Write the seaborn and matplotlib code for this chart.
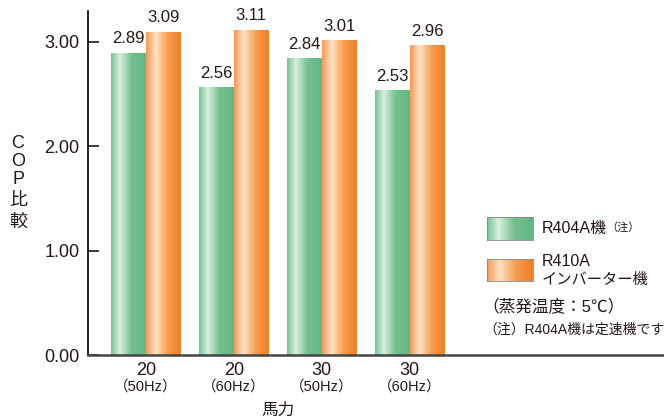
import numpy as np
import pandas as pd
import matplotlib
matplotlib.use("Agg")
import matplotlib.pyplot as plt
import seaborn as sns

# data
horsepower = ["20", "20", "30", "30"]
frequency = ["（50Hz）", "（60Hz）", "（50Hz）", "（60Hz）"]
r404a = [2.89, 2.56, 2.84, 2.53]
r410a = [3.09, 3.11, 3.01, 2.96]
series = ["R404A機", "R410Aインバーター機"]
yticks = [0.00, 1.00, 2.00, 3.00]

cats = [h + f for h, f in zip(horsepower, frequency)]
df = pd.DataFrame({
    "cat": cats * 2,
    "series": [series[0]] * 4 + [series[1]] * 4,
    "cop": r404a + r410a,
})

sns.set_style("ticks")
plt.rcParams['font.family'] = ['Liberation Sans', 'Noto Sans CJK JP', 'DejaVu Sans']
txt = "#231815"
narrow = ['Liberation Sans Narrow', 'Liberation Sans', 'DejaVu Sans']

# gradient stops (position, rgb) for the bar fills
green_stops = [(0.0, (112, 196, 146)), (0.25, (218, 238, 222)), (0.6, (112, 192, 142)), (1.0, (96, 184, 132))]
orange_stops = [(0.0, (246, 152, 84)), (0.28, (254, 226, 196)), (0.65, (246, 152, 74)), (1.0, (240, 128, 36))]


def gradient(stops, n=128):
    xs = np.linspace(0, 1, n)
    pos = [s[0] for s in stops]
    rgb = np.array([s[1] for s in stops]) / 255.0
    arr = np.stack([np.interp(xs, pos, rgb[:, k]) for k in range(3)], axis=-1)
    return arr[np.newaxis, :, :]


grads = [gradient(green_stops), gradient(orange_stops)]

fig = plt.figure(figsize=(6.64, 4.2), dpi=100)
ax = fig.add_axes([88 / 664, 65 / 420, 576 / 664, 344 / 420])

sns.barplot(data=df, x="cat", y="cop", hue="series", order=cats,
            hue_order=series, width=0.79, saturation=1, legend=False, ax=ax)

for cont, g in zip(ax.containers, grads):
    for bar in cont:
        x0, w, h = bar.get_x(), bar.get_width(), bar.get_height()
        ax.imshow(g, extent=[x0, x0 + w, 0, h], aspect="auto",
                  interpolation="bilinear", zorder=2)
        bar.set_facecolor("none")
        bar.set_edgecolor("none")
    ax.bar_label(cont, fmt="%.2f", padding=5, fontsize=12, color=txt,
                 family=narrow)

ax.set_xlim(-0.656, 5.89)
ax.set_ylim(0, 3.295)
ax.set_aspect("auto")
ax.set_yticks(yticks)
ax.set_yticklabels([f"{v:.2f}" for v in yticks])
ax.set_xticks(range(len(cats)))
ax.set_xticklabels(horsepower)
ax.set_xlabel("")
ax.set_ylabel("")
ax.tick_params(axis="y", direction="in", length=8, width=1.2, labelsize=13,
               pad=6, colors=txt)
ax.tick_params(axis="x", length=0, labelsize=13, pad=5, colors=txt)

for s in ["top", "right"]:
    ax.spines[s].set_visible(False)
ax.spines["left"].set_color("#111111")
ax.spines["left"].set_linewidth(1.3)
ax.spines["bottom"].set_color("#444444")
ax.spines["bottom"].set_linewidth(1.8)

for i, f in enumerate(frequency):
    ax.annotate(f, xy=(i, 0), xycoords=("data", "axes fraction"),
                xytext=(0, -23), textcoords="offset points",
                ha="center", va="center", fontsize=10.5, color=txt)
ax.annotate("馬力", xy=(1.5, 0), xycoords=("data", "axes fraction"),
            xytext=(0, -40), textcoords="offset points",
            ha="center", va="center", fontsize=12, color=txt)

# vertical y label
for ch, yp in zip("COP比較", [143, 161, 179, 200, 222]):
    fig.text(18 / 664, 1 - yp / 420, ch, ha="center", va="center",
             fontsize=13, color=txt)

# legend, drawn by hand
for g, (y0, y1) in zip(grads, [(217, 240), (259, 281)]):
    lax = fig.add_axes([487 / 664, 1 - y1 / 420, 46 / 664, (y1 - y0) / 420])
    lax.imshow(g, aspect="auto", interpolation="bilinear")
    lax.set_xticks([])
    lax.set_yticks([])
    for sp in lax.spines.values():
        sp.set_linewidth(0.6)
        sp.set_color("#888888")

fig.text(542 / 664, 1 - 229 / 420, "R404A機", ha="left", va="center",
         fontsize=11.5, color=txt)
fig.text(606 / 664, 1 - 227 / 420, "（注）", ha="left", va="center",
         fontsize=8, color=txt)
fig.text(542 / 664, 1 - 262 / 420, "R410A", ha="left", va="center",
         fontsize=11.5, color=txt)
fig.text(542 / 664, 1 - 280 / 420, "インバーター機", ha="left", va="center",
         fontsize=11, color=txt)
fig.text(482 / 664, 1 - 307 / 420, "（蒸発温度：5℃）", ha="left", va="center",
         fontsize=12, color=txt)
fig.text(483 / 664, 1 - 330 / 420, "（注）R404A機は定速機です", ha="left",
         va="center", fontsize=10, color=txt)

fig.savefig("out.png", dpi=100)
